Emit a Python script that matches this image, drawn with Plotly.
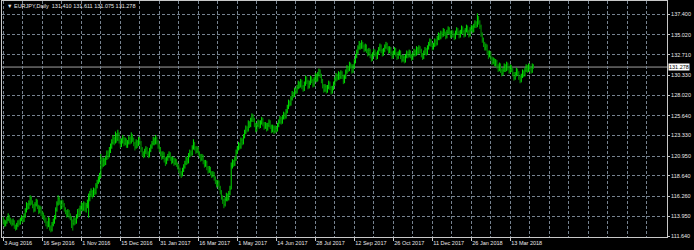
import plotly.graph_objects as go

# ---- data (EURJPY daily) ----
first_open = 113.6
close = [
113.4,113.0,113.2,113.6,113.9,113.5,113.3,113.1,113.4,112.8,
112.6,112.9,113.3,113.1,113.6,113.8,113.5,114.0,114.6,115.3,
115.0,115.4,116.1,115.6,115.2,114.7,115.3,115.7,115.1,114.5,
114.9,114.3,114.0,113.9,113.5,113.2,112.9,113.6,112.6,112.4,
113.0,113.3,113.8,114.7,115.4,116.0,115.6,115.0,115.5,115.3,
114.8,114.5,114.1,114.5,114.0,113.8,113.4,113.1,113.6,113.3,
113.9,114.5,114.2,114.9,115.3,114.8,115.4,114.8,115.2,115.6,
116.0,116.5,116.8,116.4,117.0,116.7,117.5,117.9,118.2,118.6,
120.4,119.9,120.4,120.1,120.7,121.3,121.0,121.6,122.0,122.5,
123.0,122.6,123.4,122.9,123.5,122.8,122.3,122.6,123.0,122.4,
122.8,122.2,122.5,123.0,122.6,123.3,122.9,122.4,122.0,122.6,
122.3,122.9,122.5,121.8,121.2,121.0,121.5,121.8,121.3,121.0,
121.6,122.0,122.4,122.8,122.5,123.0,122.6,122.1,121.8,121.3,
120.8,121.2,120.5,120.2,120.6,120.9,121.2,120.7,120.3,120.6,
120.1,120.4,120.0,119.8,119.4,119.0,118.8,119.3,119.7,120.1,
120.6,120.3,121.0,121.4,121.2,121.9,122.4,121.9,121.5,121.8,
121.3,121.0,120.6,120.9,120.3,119.9,120.2,119.6,119.2,119.5,
119.0,118.7,118.9,118.4,118.0,117.6,117.9,117.3,116.8,116.2,
115.8,115.3,115.9,116.4,116.0,116.6,117.1,119.8,120.3,120.0,
120.6,121.4,121.8,122.3,122.0,122.8,122.5,123.2,123.7,124.2,
124.0,124.8,124.5,125.1,125.6,125.2,124.6,124.0,124.5,124.9,
124.4,124.8,125.2,124.7,124.3,124.6,124.1,124.5,124.9,124.4,
123.9,124.3,123.8,124.2,124.0,124.5,124.9,125.3,124.9,125.4,
125.8,125.5,126.1,126.6,127.2,127.0,127.6,128.2,128.0,128.6,
128.4,128.9,129.4,129.1,129.6,129.0,128.7,129.3,130.0,129.6,
129.0,129.4,130.0,129.7,129.2,129.8,130.3,129.8,130.4,130.8,
130.3,129.7,129.1,128.6,129.0,128.5,128.9,129.4,128.9,128.4,
128.8,129.3,129.8,130.3,130.0,130.5,130.1,130.6,130.2,129.6,
130.1,130.7,131.2,131.0,131.6,131.4,130.8,131.3,131.9,132.5,
133.0,133.5,133.9,133.6,134.0,133.7,133.3,133.7,133.2,132.8,
133.2,132.6,132.2,132.7,133.1,132.8,132.4,132.9,133.3,133.7,
133.2,132.8,133.2,133.6,133.9,133.5,133.1,133.4,132.9,132.5,
132.9,133.3,132.8,132.4,132.8,133.0,132.5,132.1,132.4,132.0,
132.5,132.9,132.6,133.0,132.6,132.3,132.7,133.1,132.8,133.4,
133.0,133.5,133.2,132.7,132.4,132.9,133.3,132.9,133.5,133.9,
134.3,133.9,133.5,133.8,134.3,134.0,134.6,135.0,134.7,135.2,
135.0,135.5,135.2,134.8,135.3,135.7,135.3,134.9,135.3,135.0,
134.7,135.2,135.6,135.3,134.9,135.3,135.8,135.4,135.0,135.5,
135.9,135.4,135.0,135.6,135.9,135.5,136.0,136.4,136.1,136.9,
136.5,136.0,135.1,134.4,134.0,133.5,133.7,133.0,132.6,132.9,
132.3,131.8,132.1,131.6,131.9,131.4,131.0,131.5,130.9,130.5,
130.9,131.4,131.0,131.6,131.2,130.8,131.3,131.0,130.5,130.0,
130.4,130.9,130.6,130.1,129.7,130.2,130.7,130.4,130.9,131.3,
130.9,131.4,131.1,130.8,131.41,131.278]

high = [
113.9,113.6,113.5,113.9,114.3,114.1,113.8,113.6,113.7,113.5,
113.0,113.2,113.5,113.6,113.8,114.1,113.9,114.3,114.9,115.6,
115.5,115.8,116.4,116.3,115.8,115.4,115.6,116.0,115.9,115.3,
115.2,115.1,114.6,114.4,114.1,113.8,113.4,113.9,113.8,112.9,
113.3,113.7,114.1,115.0,115.7,116.4,116.2,115.8,115.9,115.8,
115.5,115.0,114.7,114.8,114.7,114.3,114.0,113.6,113.9,113.8,
114.2,114.8,114.9,115.2,115.6,115.5,115.7,115.6,115.5,115.9,
116.6,116.9,117.2,117.0,117.3,117.2,117.8,118.2,118.6,119.0,
121.2,120.8,120.8,120.7,121.0,121.6,121.6,122.0,122.4,122.9,
123.4,123.2,123.8,123.6,124.0,123.7,123.0,123.0,123.4,123.2,
123.1,123.0,122.8,123.3,123.2,123.7,123.5,123.1,122.6,122.9,
122.8,123.2,123.1,122.7,122.0,121.5,121.8,122.1,122.0,121.5,
121.9,122.3,122.7,123.2,123.1,123.4,123.2,122.8,122.4,122.0,
121.5,121.5,121.4,120.8,120.9,121.2,121.5,121.4,120.9,120.9,
120.8,120.7,120.6,120.2,120.0,119.6,119.2,119.6,120.0,120.4,
120.9,120.8,121.3,121.7,121.6,122.2,122.9,122.6,122.1,122.1,
122.0,121.5,121.2,121.2,121.1,120.5,120.5,120.4,119.8,119.8,
119.7,119.2,119.2,119.1,118.6,118.2,118.2,118.1,117.5,117.0,
116.4,116.0,116.2,116.7,116.6,116.9,117.5,120.2,120.6,120.5,
120.9,121.7,122.1,122.6,122.5,123.1,123.0,123.5,124.0,124.5,
124.4,125.1,125.0,125.4,125.9,125.8,125.4,124.8,124.8,125.2,
125.1,125.1,125.5,125.4,124.9,124.9,124.8,124.8,125.2,125.1,
124.6,124.6,124.5,124.5,124.4,124.8,125.2,125.6,125.5,125.7,
126.1,126.0,126.4,126.9,127.5,127.4,127.9,128.5,128.4,128.9,
128.8,129.2,129.7,129.6,129.9,129.8,129.2,129.6,130.3,130.2,
129.8,129.7,130.3,130.2,129.9,130.1,130.6,130.5,130.7,131.1,
131.0,130.5,129.9,129.3,129.3,129.2,129.2,129.7,129.6,129.1,
129.1,129.6,130.1,130.6,130.5,130.8,130.7,130.9,130.8,130.4,
130.4,131.0,131.5,131.4,131.9,131.8,131.6,131.6,132.2,132.8,
133.3,133.8,134.3,134.1,134.4,134.2,133.9,134.0,133.9,133.4,
133.5,133.4,132.8,133.0,133.4,133.3,133.0,133.2,133.6,134.0,
133.9,133.4,133.5,133.9,134.2,134.1,133.7,133.7,133.6,133.1,
133.2,133.6,133.5,133.0,133.1,133.3,133.2,132.7,132.7,132.6,
132.8,133.2,133.1,133.3,133.2,132.8,133.0,133.4,133.3,133.7,
133.6,133.8,133.7,133.4,132.9,133.2,133.6,133.5,133.8,134.2,
134.6,134.5,134.1,134.1,134.6,134.5,134.9,135.3,135.2,135.5,
135.4,135.8,135.7,135.4,135.6,136.0,135.9,135.5,135.6,135.5,
135.2,135.5,135.9,135.8,135.5,135.6,136.1,136.0,135.6,135.8,
136.2,136.1,135.6,135.9,136.2,136.1,136.3,136.7,136.6,137.5,
137.2,136.7,136.2,135.3,134.7,134.2,134.0,133.9,133.2,133.2,
133.1,132.5,132.4,132.3,132.2,132.1,131.6,131.8,131.7,131.1,
131.2,131.7,131.6,131.9,131.8,131.4,131.6,131.5,131.2,130.7,
130.7,131.2,131.1,130.8,130.3,130.5,131.0,130.9,131.2,131.6,
131.5,131.7,131.6,131.3,131.7,131.611]

low = [
113.0,112.7,112.8,113.1,113.4,113.2,113.0,112.8,112.9,112.5,
112.3,112.4,112.7,112.9,113.0,113.4,113.2,113.3,113.8,114.4,
114.7,114.8,115.2,115.3,114.9,114.4,114.5,115.1,114.8,114.2,
114.3,114.0,113.7,113.5,113.2,112.8,112.5,112.7,112.3,112.1,
112.2,112.8,113.1,113.6,114.5,115.2,115.3,114.7,114.8,115.0,
114.5,114.2,113.8,113.9,113.7,113.5,112.6,112.3,112.9,113.0,
113.1,113.7,113.9,114.0,114.6,114.5,114.6,114.5,114.4,114.9,
113.8,115.7,116.2,116.0,116.2,116.4,116.5,117.2,117.7,117.9,
118.4,119.5,119.7,119.8,119.9,120.5,120.6,120.8,121.3,121.8,
122.3,122.2,122.4,122.5,122.7,122.4,121.9,122.0,122.4,122.1,
122.2,121.9,121.9,122.3,122.3,122.4,122.6,122.1,121.6,121.8,
121.9,122.1,122.2,121.4,120.9,120.7,120.8,121.2,121.0,120.7,
120.8,121.4,121.8,122.2,122.2,122.3,122.3,121.8,121.4,120.9,
120.5,120.6,120.2,119.8,120.0,120.4,120.7,120.4,120.0,120.1,
119.8,119.9,119.7,119.4,119.0,118.6,118.4,118.6,119.1,119.5,
119.9,120.0,120.1,120.8,120.9,121.0,121.7,121.6,121.2,121.3,
121.0,120.7,120.3,120.4,120.0,119.6,119.7,119.3,118.9,119.0,
118.7,118.4,118.5,118.1,117.7,117.3,117.4,117.0,116.5,115.9,
115.4,114.9,115.1,115.7,115.7,115.8,116.4,117.1,119.5,119.7,
119.8,120.4,121.2,121.6,121.7,121.8,122.2,122.3,123.0,123.5,
123.7,123.8,124.2,124.3,124.9,124.9,124.3,123.7,123.8,124.3,
124.1,124.2,124.6,124.4,124.0,124.1,123.8,123.9,124.3,124.1,
123.6,123.7,123.5,123.6,123.7,123.8,124.3,124.7,124.6,124.7,
125.2,125.2,125.3,125.9,126.4,126.7,126.8,127.4,127.7,127.8,
128.1,128.2,128.7,128.8,128.9,128.7,128.4,128.5,129.1,129.3,
128.7,128.8,129.2,129.4,128.9,129.0,129.6,129.5,129.6,130.2,
130.0,129.4,128.8,128.3,128.4,128.2,128.3,128.7,128.6,128.1,
128.2,128.6,129.1,129.6,129.7,129.8,129.8,129.9,129.9,129.3,
129.4,129.9,130.5,130.7,130.8,131.1,130.5,130.6,131.1,131.7,
132.3,132.8,133.3,133.3,133.4,133.4,133.0,133.1,132.9,132.5,
132.6,132.3,131.9,132.0,132.5,132.5,132.1,132.2,132.7,133.1,
132.9,132.5,132.6,133.0,133.4,133.2,132.8,132.9,132.6,132.2,
132.3,132.7,132.5,132.1,132.2,132.6,132.2,131.8,131.9,131.7,
131.8,132.3,132.3,132.4,132.3,132.0,132.1,132.5,132.5,132.6,
132.7,132.8,132.9,132.4,132.1,132.2,132.7,132.6,132.7,133.3,
133.7,133.6,133.2,133.3,133.6,133.7,133.8,134.4,134.4,134.5,
134.7,134.8,134.9,134.5,134.6,135.1,135.0,134.6,134.7,134.7,
134.4,134.5,135.0,135.0,134.6,134.7,135.1,135.1,134.7,134.8,
135.3,135.1,134.7,134.8,135.4,135.2,135.3,135.8,135.8,135.9,
136.2,135.7,134.8,134.1,133.6,133.2,133.2,132.7,132.2,132.4,
132.0,131.5,131.6,131.3,131.4,131.1,130.7,130.8,130.6,130.2,
130.3,130.7,130.7,130.8,130.9,130.5,130.6,130.7,130.2,129.7,
129.8,130.2,130.3,129.8,129.4,129.5,130.0,130.1,130.2,130.7,
130.6,130.7,130.8,130.5,130.6,131.075]

# x-axis labels and the bar index of the day each one names
tick_bars = [0, 32, 64, 96, 128, 160, 192, 224, 256, 288, 320, 352, 384, 416]
tick_labels = ["3 Aug 2016", "16 Sep 2016", "1 Nov 2016", "15 Dec 2016",
               "31 Jan 2017", "16 Mar 2017", "1 May 2017", "14 Jun 2017",
               "28 Jul 2017", "12 Sep 2017", "26 Oct 2017", "11 Dec 2017",
               "26 Jan 2018", "13 Mar 2018"]
price_ticks = [111.640, 113.950, 116.260, 118.640, 120.950, 123.330,
               125.640, 128.020, 130.330, 132.710, 135.020, 137.400]
symbol = "EURJPY,Daily"
last_ohlc = [131.410, 131.611, 131.075, 131.278]

n = len(close)
assert len(high) == n and len(low) == n, (len(close), len(high), len(low))
opens = [first_open] + close[:-1]
opens[-1] = last_ohlc[0]
highs = [max(h, o, c) for h, o, c in zip(high, opens, close)]
lows = [min(l, o, c) for l, o, c in zip(low, opens, close)]
bars = list(range(n))

GRID = "#76828f"
AXIS = "#c8c8c8"
FONT = "Liberation Sans"
FS = 5.5
TXT = "#e8e8e8"

fig = go.Figure()
fig.add_trace(go.Ohlc(
    x=bars, open=opens, high=highs, low=lows, close=close,
    increasing=dict(line=dict(color="#00e000", width=1)),
    decreasing=dict(line=dict(color="#009a00", width=1)),
    tickwidth=0.25, hoverinfo="skip", showlegend=False))

last = last_ohlc[3]
fig.add_shape(type="line", xref="paper", x0=0, x1=1, yref="y", y0=last, y1=last,
              line=dict(color="#a0a0a0", width=1), layer="below")

fig.add_annotation(xref="paper", x=1, xanchor="left", xshift=1, yref="y", y=last,
                   yanchor="middle", text=f"{last:.3f}", showarrow=False,
                   bgcolor="#ffffff", borderpad=0,
                   font=dict(family=FONT, size=FS, color="#000000"))

fig.add_annotation(xref="paper", x=0.0045, xanchor="left", yref="paper", y=0.978,
                   yanchor="middle", showarrow=False,
                   text="▼ " + symbol + "  " + " ".join(f"{v:.3f}" for v in last_ohlc),
                   font=dict(family=FONT, size=FS, color=TXT))

fig.update_layout(
    width=694, height=250,
    margin=dict(l=2, r=27, t=1, b=13, pad=0),
    paper_bgcolor="#000000", plot_bgcolor="#000000",
    showlegend=False,
    font=dict(family=FONT, size=FS, color=TXT),
    xaxis=dict(
        range=[-1.067, 544.57], rangeslider=dict(visible=False),
        tickmode="array", tickvals=tick_bars, ticktext=tick_labels, tickangle=0,
        ticks="outside", ticklen=3, tickcolor=AXIS, ticklabelposition="outside right",
        showline=True, linecolor=AXIS, linewidth=1, mirror=True,
        showgrid=True, gridcolor=GRID, griddash="3px,2px", gridwidth=1,
        minor=dict(tickmode="linear", tick0=0, dtick=16, showgrid=True,
                   gridcolor=GRID, griddash="3px,2px", ticks=""),
        zeroline=False, automargin=False, fixedrange=True,
        tickfont=dict(family=FONT, size=FS, color=TXT)),
    yaxis=dict(
        side="right", range=[111.559, 138.943],
        tickmode="array", tickvals=price_ticks,
        ticktext=[f"{v:.3f}" for v in price_ticks],
        ticks="outside", ticklen=2, tickcolor=AXIS,
        showline=True, linecolor=AXIS, linewidth=1, mirror=True,
        showgrid=True, gridcolor=GRID, griddash="3px,2px", gridwidth=1,
        zeroline=False, automargin=False, fixedrange=True,
        tickfont=dict(family=FONT, size=FS, color=TXT)),
)

fig.write_html("out.html")
